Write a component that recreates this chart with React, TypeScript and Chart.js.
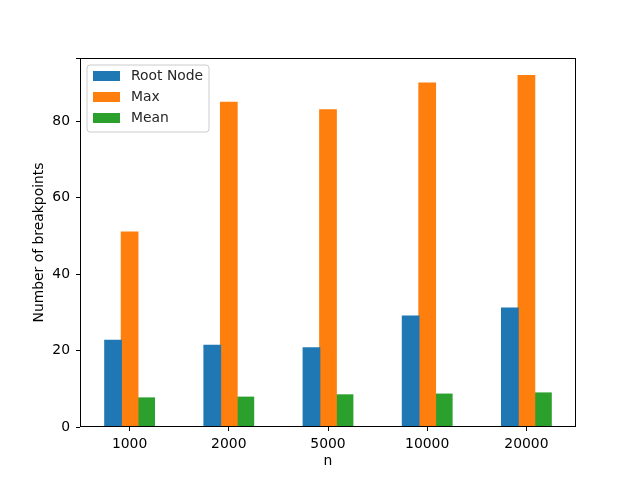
import React, { useEffect, useRef } from "react";
import { Chart, registerables } from "chart.js";

Chart.register(...registerables);

const categories = ["1000", "2000", "5000", "10000", "20000"];
const rootNode = [22.7, 21.4, 20.7, 29.0, 31.1];
const maxValues = [51, 85, 83, 90, 92];
const meanValues = [7.6, 7.8, 8.4, 8.6, 8.9];
const seriesNames = ["Root Node", "Max", "Mean"];
const seriesColors = ["#1f77b4", "#ff7f0e", "#2ca02c"];

const FONT = "'DejaVu Sans', sans-serif";

const framePlugin = {
  id: "frame",
  afterDraw(chart: any) {
    const { ctx, chartArea } = chart;
    ctx.save();
    ctx.strokeStyle = "#000";
    ctx.lineWidth = 1;
    ctx.strokeRect(
      Math.round(chartArea.left) + 0.5,
      Math.round(chartArea.top) + 0.5,
      Math.round(chartArea.right - chartArea.left) - 1,
      Math.round(chartArea.bottom - chartArea.top) - 1
    );
    // legend
    const x0 = chartArea.left + 7;
    const y0 = chartArea.top + 7;
    const w = 122;
    const h = 67;
    ctx.beginPath();
    const r = 3;
    ctx.moveTo(x0 + r, y0);
    ctx.lineTo(x0 + w - r, y0);
    ctx.quadraticCurveTo(x0 + w, y0, x0 + w, y0 + r);
    ctx.lineTo(x0 + w, y0 + h - r);
    ctx.quadraticCurveTo(x0 + w, y0 + h, x0 + w - r, y0 + h);
    ctx.lineTo(x0 + r, y0 + h);
    ctx.quadraticCurveTo(x0, y0 + h, x0, y0 + h - r);
    ctx.lineTo(x0, y0 + r);
    ctx.quadraticCurveTo(x0, y0, x0 + r, y0);
    ctx.closePath();
    ctx.fillStyle = "rgba(255,255,255,0.8)";
    ctx.fill();
    ctx.strokeStyle = "#cccccc";
    ctx.stroke();
    ctx.font = `13.9px ${FONT}`;
    ctx.textBaseline = "middle";
    ctx.textAlign = "left";
    chart.data.datasets.forEach((ds: any, i: number) => {
      const cy = y0 + 11 + i * 21;
      ctx.fillStyle = ds.backgroundColor;
      ctx.fillRect(x0 + 6, cy - 5, 27, 10);
      ctx.fillStyle = "#262626";
      ctx.fillText(ds.label, x0 + 44, cy);
    });
    ctx.restore();
  },
};

export default function App() {
  const ref = useRef<HTMLCanvasElement>(null);
  useEffect(() => {
    if (!ref.current) return;
    const chart = new Chart(ref.current, {
      type: "bar",
      data: {
        labels: categories,
        datasets: [rootNode, maxValues, meanValues].map((d, i) => ({
          label: seriesNames[i],
          data: d,
          backgroundColor: seriesColors[i],
          borderWidth: 0,
          inflateAmount: 0.6,
          categoryPercentage: 0.5,
          barPercentage: 1.0,
        })),
      },
      options: {
        animation: false,
        responsive: false,
        maintainAspectRatio: false,
        layout: { padding: { left: 0, right: 64, top: 58, bottom: 0 } },
        plugins: {
          legend: { display: false },
          tooltip: { enabled: false },
        },
        scales: {
          x: {
            grid: {
              offset: false,
              drawOnChartArea: false,
              drawTicks: true,
              tickLength: 4,
              color: "#000",
            },
            border: { display: false },
            ticks: {
              color: "#000",
              font: { family: FONT, size: 13.9 },
              padding: 5,
            },
            title: {
              display: true,
              text: "n",
              color: "#000",
              font: { family: FONT, size: 13.9 },
              padding: { top: 2, bottom: 10 },
            },
            afterFit(scale: any) {
              scale.height = 53;
            },
          },
          y: {
            min: 0,
            max: 96.6,
            grid: {
              drawOnChartArea: false,
              drawTicks: true,
              tickLength: 4,
              color: "#000",
            },
            border: { display: false },
            ticks: {
              stepSize: 20,
              color: "#000",
              font: { family: FONT, size: 13.9 },
              padding: 6,
              callback: (v: any) => (v % 20 === 0 ? String(v) : ""),
            },
            title: {
              display: true,
              text: "Number of breakpoints",
              color: "#000",
              font: { family: FONT, size: 13.9 },
              padding: { top: 31, bottom: 0 },
            },
            afterFit(scale: any) {
              scale.width = 80;
            },
          },
        },
      },
      plugins: [framePlugin],
    });
    return () => chart.destroy();
  }, []);
  return (
    <div style={{ position: "fixed", left: 0, top: 0, width: 640, height: 480, background: "#fff" }}>
      <canvas ref={ref} width={640} height={480} />
    </div>
  );
}
